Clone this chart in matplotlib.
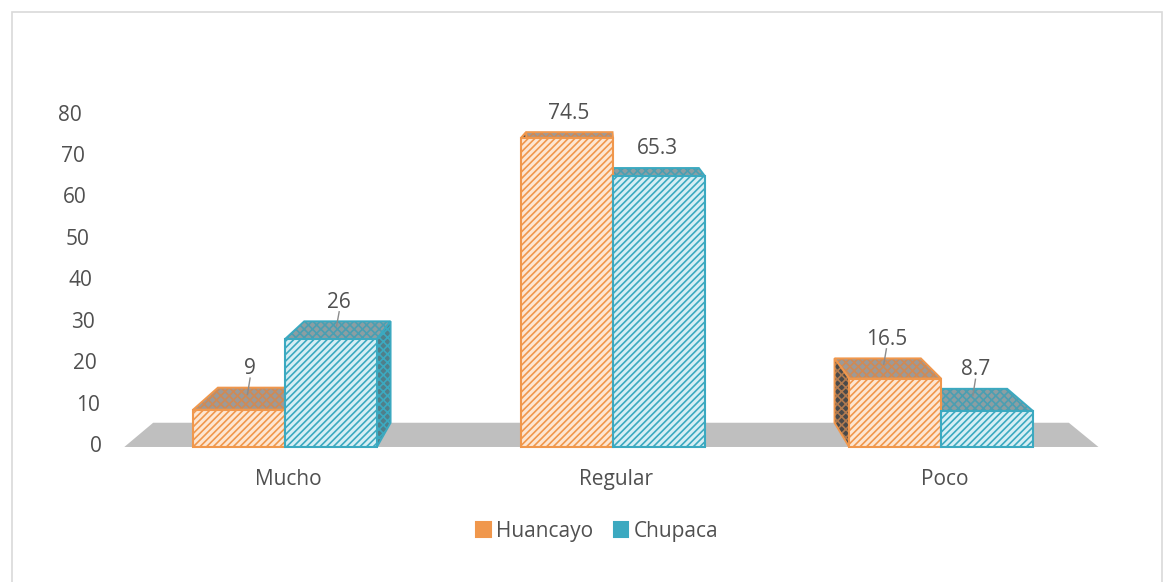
import numpy as np
import matplotlib.pyplot as plt
from matplotlib.patches import Polygon, Patch, Rectangle

categories = ["Mucho", "Regular", "Poco"]
series = ["Huancayo", "Chupaca"]
huancayo = [9, 74.5, 16.5]
chupaca = [26, 65.3, 8.7]
yticks = [0, 10, 20, 30, 40, 50, 60, 70, 80]

plt.rcParams['font.family'] = ['Open Sans', 'DejaVu Sans']
plt.rcParams['hatch.linewidth'] = 1.2

edge = ['#F0974C', '#3BA9C0']
face = ['#FDE6D2', '#D6EEF4']
top_face = ['#9C9A98', '#8C9EA2']
top_hatch = ['#D08A55', '#4A9FB2']
side_face = ['#4A4A4A', '#507F8A']
side_hatch = ['#B07A50', '#3BA9C0']
txt = '#505050'
fs = 15

# fake perspective: every back point moves toward a vanishing point
vpx, vpy, k = 0.976, 97.3, 0.06
width = 0.28


def back(x, y):
    return x + k * (vpx - x), y + k * (vpy - y)


def face3d(pts, fc, hc, ec):
    # fill + hatch in a muted colour, then the outline on top
    ax.add_patch(Polygon(pts, closed=True, facecolor=fc, edgecolor=hc,
                         hatch='xxxx', linewidth=0, zorder=2))
    ax.add_patch(Polygon(pts, closed=True, fill=False, edgecolor=ec,
                         linewidth=1.4, zorder=2))


fig = plt.figure(figsize=(11.64, 5.82), dpi=100)
fig.patches.append(Rectangle((12 / 1164, -0.01), 1150 / 1164, 1 - 12 / 582 + 0.01,
                             transform=fig.transFigure, fill=False,
                             edgecolor='#D9D9D9', linewidth=1.2))
ax = fig.add_axes([0.0758, 0.1607, 0.9017, 0.713])
ax.set_xlim(-0.6, 2.6)
ax.set_ylim(-10, 90)
ax.axis('off')

# floor
fl, fr = -0.49, 2.48
ax.add_patch(Polygon([(fl, 0), (fr, 0), back(fr, 0), back(fl, 0)],
                     closed=True, facecolor='#BFBFBF', edgecolor='none', zorder=1))

values = [huancayo, chupaca]
x = np.arange(len(categories))
for s in range(2):
    for i, v in enumerate(values[s]):
        x0 = x[i] - width if s == 0 else x[i]
        x1 = x0 + width
        face3d([(x0, v), (x1, v), back(x1, v), back(x0, v)],
               top_face[s], top_hatch[s], edge[s])
        sx = x1 if x1 < vpx else x0
        face3d([(sx, 0), (sx, v), back(sx, v), back(sx, 0)],
               side_face[s], side_hatch[s], edge[s])

for s in range(2):
    offs = -width / 2 if s == 0 else width / 2
    ax.bar(x + offs, values[s], width, facecolor=face[s], edgecolor=edge[s],
           hatch='/////', linewidth=1.5, zorder=3)

# data labels, short leader line when the label floats away from the top
for s in range(2):
    for i, v in enumerate(values[s]):
        x0 = x[i] - width if s == 0 else x[i]
        cx = x0 + width / 2
        bx, by = back(cx, v)
        mx, my = (cx + bx) / 2, (v + by) / 2
        ly = by + 4.6
        ax.text(mx, ly, f"{v:g}", ha='center', va='center', fontsize=fs,
                color=txt, zorder=5)
        if ly - 2 - my > 4.5:
            ax.plot([mx, mx - 0.008], [ly - 2.3, my + 1], color='#8C8C8C', lw=1, zorder=4)

# slanted value axis labels
for t in yticks:
    ax.text((102 - 0.25 * t - 285) / 328, t, str(t), ha='right', va='center',
            fontsize=fs, color=txt)

for i, c in enumerate(categories):
    ax.text(x[i] + 0.01, -7.8, c, ha='center', va='center', fontsize=fs, color=txt)

handles = [Patch(facecolor=edge[s], edgecolor=edge[s], linewidth=1.5) for s in range(2)]
fig.legend(handles, series, loc='center', bbox_to_anchor=(0.513, 0.0876), ncol=2,
           frameon=False, fontsize=fs, handlelength=0.7, handleheight=0.7,
           handletextpad=0.25, columnspacing=1.0, labelcolor=txt)

fig.savefig("out.png", dpi=100)
